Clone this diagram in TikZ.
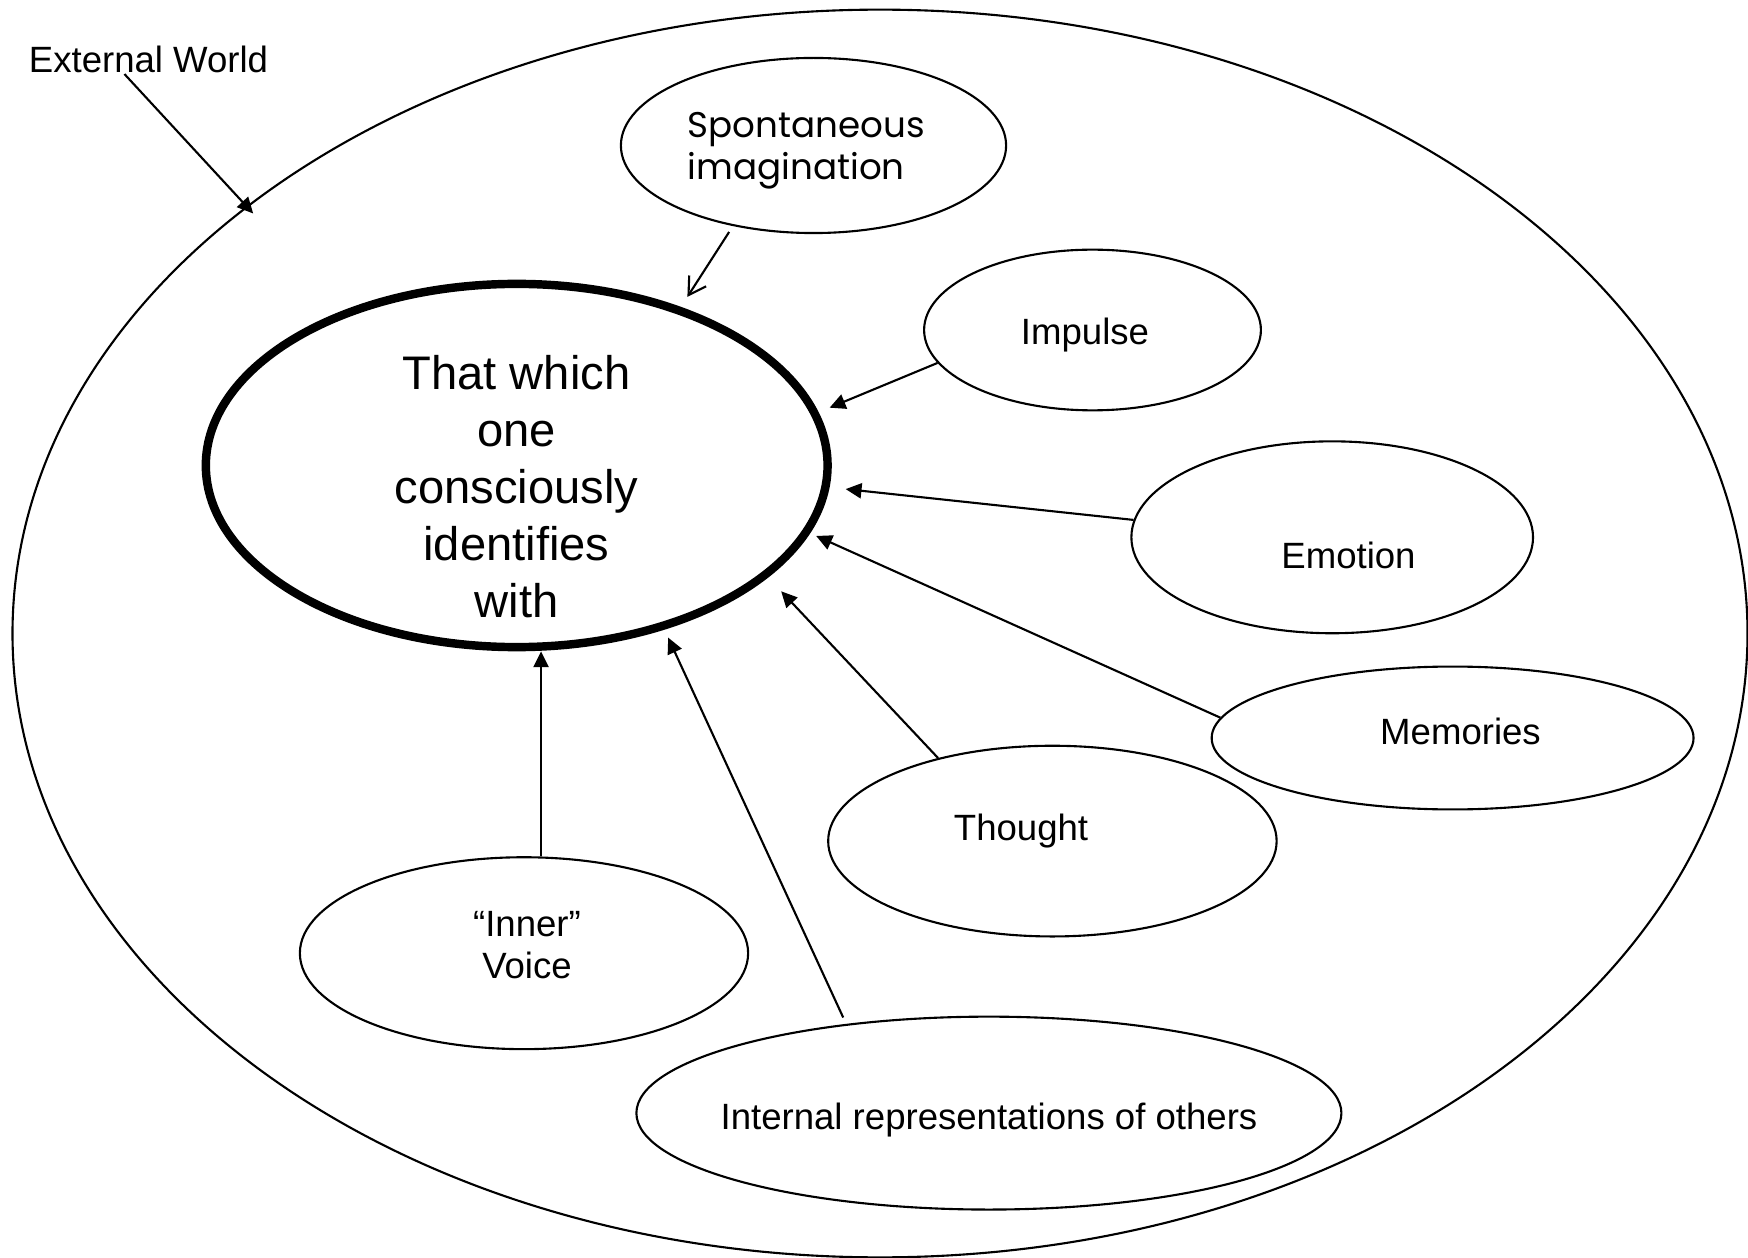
\documentclass[tikz,border=0pt]{standalone}
\usepackage{fontspec}
\setmainfont{Liberation Sans}
\newfontfamily\gothic{Poppins}
\usetikzlibrary{arrows.meta,shapes.geometric,calc}
\begin{document}
\begin{tikzpicture}[x=0.01cm,y=-0.01cm,
  oval/.style={draw, ellipse, inner sep=0pt, line width=0.6pt},
  lbl/.style={font=\fontsize{10.4}{11.95}\selectfont, inner sep=0pt, align=center},
  arr/.style={-{Triangle[length=4.5pt,width=4.3pt]}, line width=0.6pt},
  openarr/.style={-{Straight Barb[length=4.8pt,width=5.7pt]}, line width=0.6pt},
]
\useasboundingbox (0,0) rectangle (1748,1258);

% outer ellipse
\node[oval, minimum width=17.34cm, minimum height=12.47cm] (world) at (880,633.5) {};

% central ellipse
\node[draw, ellipse, inner sep=0pt, line width=2.4pt,
      minimum width=6.214cm, minimum height=3.63cm] (central) at (516.7,465.5) {};
\node[inner sep=0pt, align=center, font=\fontsize{13.4}{16.2}\selectfont]
  (ctext) at (516.5,486.5) {That which\\one\\consciously\\identifies\\with};

% satellite ellipses
\node[oval, minimum width=3.85cm, minimum height=1.75cm] (spont) at (813.5,145.5) {};
\node[inner sep=0pt, align=left, anchor=west, font=\gothic\fontsize{10.15}{11.95}\selectfont]
  (sponttext) at (687,150.5) {Spontaneous\\imagination};

\node[oval, minimum width=3.366cm, minimum height=1.606cm] (impulse) at (1092.5,330) {};
\node[lbl, anchor=base] (impulsetext) at (1085,345) {Impulse};

\node[oval, minimum width=4.014cm, minimum height=1.918cm] (emotion) at (1332.2,537.3) {};
\node[lbl, anchor=base] (emotiontext) at (1348.5,569) {Emotion};

\node[oval, minimum width=4.816cm, minimum height=1.428cm] (memories) at (1452.6,738) {};
\node[lbl, anchor=base] (memoriestext) at (1460.5,744) {Memories};

\node[oval, minimum width=4.482cm, minimum height=1.906cm] (thought) at (1052.4,841.1) {};
\node[lbl, anchor=base] (thoughttext) at (1021,840) {Thought};

\node[oval, minimum width=4.48cm, minimum height=1.918cm] (voice) at (524,953.2) {};
\node[lbl] (voicetext) at (527,945.5) {“Inner”\\Voice};

\node[oval, minimum width=7.046cm, minimum height=1.928cm] (internal) at (988.9,1113.1) {};
\node[lbl, anchor=base] (internaltext) at (989,1129) {Internal representations of others};

% External World label
\node[lbl, anchor=base] (ext) at (148.5,73) {External World};

% connectors
\draw[arr, shorten >=-2.85pt] ($(ext.south west)!0.4!(ext.south east)$) -- (world.146.2);
\draw[openarr, shorten <=2pt, shorten >=3.4pt] (spont.225.4) -- (central.44.6);
\draw[arr, shorten >=3.4pt] (impulse.192.1) -- (central.10.4);
\draw[arr, shorten >=4.6pt] (emotion.175.2) -- (central.-4.27);
\draw[arr, shorten >=1.9pt] (memories.175) -- (central.-13.93);
\draw[arr, shorten >=5.4pt] (thought.144.2) -- (central.-24.6);
\draw[arr] (voice.80) -- (voice.80 |- central.south);
\draw[arr, shorten <=2pt, shorten >=2.5pt] (internal.148.8) -- (central.-48.75);
\end{tikzpicture}
\end{document}
